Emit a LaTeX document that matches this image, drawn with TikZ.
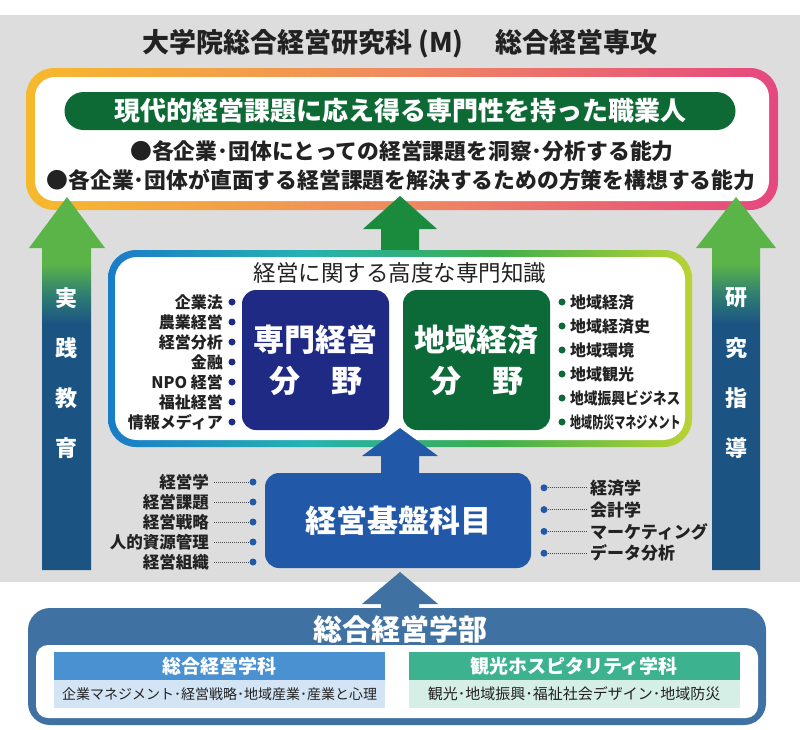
\documentclass[tikz,border=0pt]{standalone}
\usepackage{fontspec}
\setmainfont{Noto Sans CJK JP}
\definecolor{bggray}{HTML}{DDDDDD}
\definecolor{tgA}{HTML}{F6B92C}
\definecolor{tgB}{HTML}{EF8A60}
\definecolor{tgC}{HTML}{E5477F}
\definecolor{mgA}{HTML}{1A7CC8}
\definecolor{mgB}{HTML}{25B2B2}
\definecolor{mgC}{HTML}{3BAE4C}
\definecolor{mgD}{HTML}{B9D334}
\definecolor{arG}{HTML}{5BB448}
\definecolor{arM}{HTML}{2F7F72}
\definecolor{arB}{HTML}{1B5483}
\definecolor{pillgreen}{HTML}{0E6A35}
\definecolor{cgreen}{HTML}{1A8A3C}
\definecolor{navy}{HTML}{1E2A84}
\definecolor{dgreen}{HTML}{0B6A38}
\definecolor{basebl}{HTML}{2159A8}
\definecolor{steel}{HTML}{3F71A2}
\definecolor{deptA}{HTML}{4A91D2}
\definecolor{deptAl}{HTML}{D3E4F4}
\definecolor{deptB}{HTML}{3DB28F}
\definecolor{deptBl}{HTML}{D5EEE6}
\definecolor{txt}{HTML}{222222}
\pgfdeclarehorizontalshading{topgrad}{100bp}{color(0bp)=(tgA); color(25bp)=(tgA); color(50bp)=(tgB); color(75bp)=(tgC); color(100bp)=(tgC)}
\pgfdeclarehorizontalshading{midgrad}{100bp}{color(0bp)=(mgA); color(25bp)=(mgA); color(42bp)=(mgB); color(58bp)=(mgC); color(75bp)=(mgD); color(100bp)=(mgD)}
\pgfdeclareverticalshading{sidegrad}{100bp}{color(0bp)=(arB); color(58bp)=(arB); color(62bp)=(arM); color(66bp)=(arG); color(100bp)=(arG)}
\newcommand\fsz[1]{\fontsize{#1}{#1}\selectfont}
\tikzset{
  lbl/.style={inner sep=0pt, font=\bfseries\fsz{16}, text=txt},
  blbl/.style={inner sep=0pt, font=\bfseries\fsz{16.5}, text=txt},
  dotN/.style={circle, inner sep=0pt, minimum size=7pt, fill=navy},
  dotG/.style={circle, inner sep=0pt, minimum size=7pt, fill=dgreen},
  dotB/.style={circle, inner sep=0pt, minimum size=7pt, fill=basebl},
  dotline/.style={draw=gray!60!black, line width=0.7pt, dash pattern=on 0.7pt off 1.3pt},
  vtxt/.style={inner sep=0pt, text=white, font=\bfseries\fsz{22}},
  fieldbox/.style={rounded corners=14pt, minimum width=147pt, minimum height=140pt, text=white, inner sep=0pt, align=center, font=\bfseries\fontsize{31}{41}\selectfont},
  dept/.style={inner sep=0pt, minimum width=331pt, minimum height=28pt, text=white, font=\bfseries\fsz{19}},
  deptsub/.style={inner sep=0pt, minimum width=331pt, minimum height=28pt, text=txt, font=\fsz{14}}
}
\begin{document}
\begin{tikzpicture}[x=1pt,y=-1pt]
\useasboundingbox (0,0) rectangle (800,729);
\fill[white] (0,0) rectangle (800,729);
\fill[bggray] (0,15) rectangle (800,582);

% title
\node[inner sep=0pt, font=\bfseries\fsz{27}, text=txt] (title) at (400,44) {大学院総合経営研究科 (M)\hspace{1.2em}総合経営専攻};

% top box
\shade[shading=topgrad, rounded corners=28pt] (26,68) rectangle (778,210);
\fill[white, rounded corners=20pt] (35,77) rectangle (769,201);
\node[fill=pillgreen, rounded corners=19pt, minimum width=671pt, minimum height=38pt, inner sep=0pt, text=white, font=\bfseries\fsz{26}] (pill) at (400,111) {現代的経営課題に応え得る専門性を持った職業人};
\node[inner sep=0pt, font=\bfseries\fsz{21.8}, text=txt] (b1) at (402,151) {●各企業･団体にとっての経営課題を洞察･分析する能力};
\node[inner sep=0pt, font=\bfseries\fsz{21.8}, text=txt] (b2) at (401,180) {●各企業･団体が直面する経営課題を解決するための方策を構想する能力};

% side arrows
\shade[shading=sidegrad] (67,197) -- (29,248) -- (42,248) -- (42,570) -- (91,570) -- (91,248) -- (105,248) -- cycle;
\shade[shading=sidegrad] (736,197) -- (696,248) -- (712,248) -- (712,570) -- (760,570) -- (760,248) -- (776,248) -- cycle;
\foreach \c [count=\i] in {実,践,教,育}
  \node[vtxt] (jl\i) at (66.5,248+50*\i) {\c};
\foreach \c [count=\i] in {研,究,指,導}
  \node[vtxt] (kr\i) at (736,248+50*\i) {\c};

% central green arrow
\fill[cgreen] (400,196) -- (363,229) -- (381,229) -- (381,252) -- (419,252) -- (419,229) -- (437,229) -- cycle;

% middle box
\shade[shading=midgrad, rounded corners=28pt] (108,250) rectangle (692,447);
\fill[white, rounded corners=22pt] (115,257) rectangle (685,440);
\node[inner sep=0pt, font=\fsz{22.5}, text=txt] (knowhead) at (400,273) {経営に関する高度な専門知識};
\node[fieldbox, fill=navy] (senmon) at (315.5,360) {専門経営\\分\hspace{1em}野};
\node[fieldbox, fill=dgreen] (chiiki) at (476.5,360) {地域経済\\分\hspace{1em}野};

\foreach \t [count=\i] in {企業法,農業経営,経営分析,金融,NPO 経営,福祉経営,情報メディア}{
  \node[lbl, anchor=east] (sl\i) at (223,282+20*\i) {\t};
  \node[dotN] (sd\i) at (232,282+20*\i) {};
}
\foreach \t/\s [count=\i] in {地域経済/1,地域経済史/1,地域環境/1,地域観光/1,地域振興ビジネス/0.86,地域防災マネジメント/0.69}{
  \node[dotG] (rd\i) at (562,278+24*\i) {};
  \node[lbl, anchor=west] (rl\i) at (570,278+24*\i) {\scalebox{\s}[1]{\t}};
}

% blue arrow base -> middle
\fill[basebl] (400,428) -- (362,456) -- (381,456) -- (381,476) -- (419,476) -- (419,456) -- (438,456) -- cycle;

% base box
\node[fill=basebl, rounded corners=14pt, minimum width=266pt, minimum height=95pt, inner sep=0pt, text=white, font=\bfseries\fsz{31}] (kiban) at (398,520.5) {経営基盤科目};
\foreach \t [count=\i] in {経営学,経営課題,経営戦略,人的資源管理,経営組織}{
  \node[blbl, anchor=east] (bl\i) at (209,462+20*\i) {\t};
  \node[dotB] (bd\i) at (253,462+20*\i) {};
  \draw[dotline] ([xshift=5pt]bl\i.east) -- (bd\i.west);
}
\foreach \t [count=\i] in {経済学,会計学,マーケティング,データ分析}{
  \node[dotB] (cd\i) at (544,466+21.8*\i) {};
  \node[blbl, anchor=west, font=\bfseries\fsz{17}] (cl\i) at (590,466+21.8*\i) {\t};
  \draw[dotline] (cd\i.east) -- ([xshift=-3pt]cl\i.west);
}

% bottom faculty box
\fill[steel, rounded corners=22pt] (28,608) rectangle (766,725);
\fill[white, rounded corners=12pt] (36,645) rectangle (758,718);
\fill[steel] (400,572) -- (362,604) -- (381,604) -- (381,612) -- (419,612) -- (419,604) -- (438,604) -- cycle;
\node[inner sep=0pt, text=white, font=\bfseries\fsz{29}] (gakubu) at (400,629) {総合経営学部};
\node[dept, fill=deptA] (dA) at (219.5,666) {総合経営学科};
\node[deptsub, fill=deptAl] (dAs) at (219.5,694) {\fsz{14}企業マネジメント･経営戦略･地域産業･産業と心理};
\node[dept, fill=deptB] (dB) at (574,666) {観光ホスピタリティ学科};
\node[deptsub, fill=deptBl] (dBs) at (574,694) {\fsz{15}観光･地域振興･福祉社会デザイン･地域防災};
\end{tikzpicture}
\end{document}
